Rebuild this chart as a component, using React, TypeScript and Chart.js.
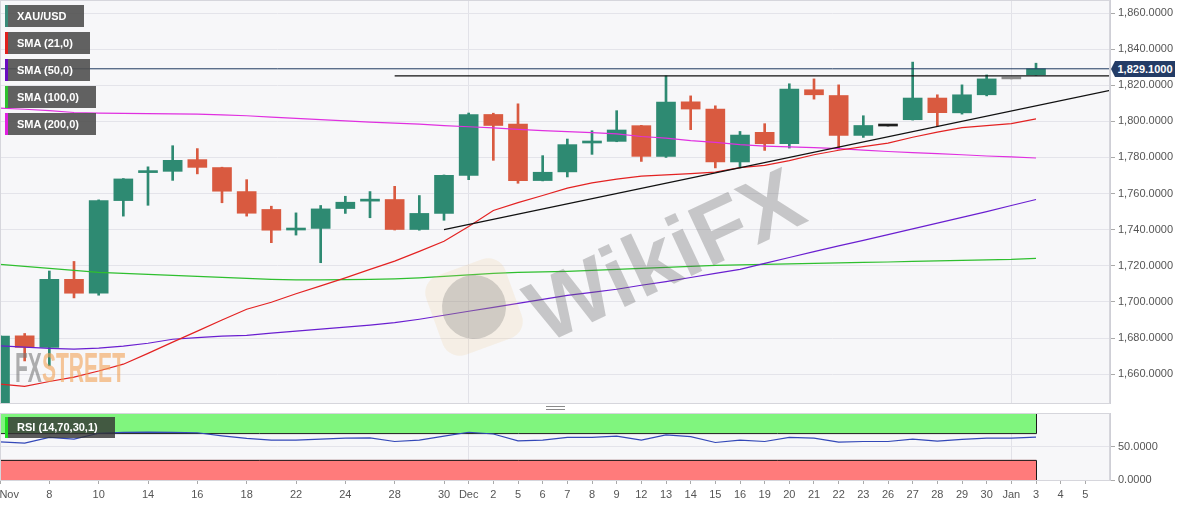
import React, { useEffect, useRef } from 'react';
import { Chart, registerables } from 'chart.js';

Chart.register(...registerables);

const FONT = '"Liberation Sans", Arial, sans-serif';

// x categories (one slot per trading day; '' = unlabeled slot, last one is the right padding slot)
const xLabels = [
  'Nov', '', '8', '', '10', '', '14', '', '16', '', '18', '', '22', '', '24', '', '28', '', '30',
  'Dec', '2', '5', '6', '7', '8', '9', '12', '13', '14', '15', '16', '19', '20', '21', '22', '23',
  '26', '27', '28', '29', '30', 'Jan', '3', '4', '5', '',
];

const opens = [1638, 1681.2, 1674.8, 1712.5, 1704.8, 1756.1, 1771.6, 1772.3, 1778.8, 1774.4, 1761.1, 1751.2, 1739.8, 1740.7, 1751.7, 1755.8, 1756.7, 1740.1, 1749.0, 1770.1, 1803.8, 1798.5, 1767.2, 1772.0, 1788.0, 1788.9, 1797.6, 1780.6, 1810.8, 1806.8, 1777.5, 1793.9, 1787.6, 1817.5, 1814.3, 1792.2, 1797.4, 1800.9, 1812.9, 1804.7, 1814.7, 1823.5, 1825.7];
const highs = [1681.5, 1682.5, 1717.1, 1722.4, 1756.5, 1768.3, 1774.8, 1786.5, 1784.9, 1774.6, 1767.7, 1753.0, 1749.3, 1753.4, 1758.5, 1761.1, 1764.0, 1758.9, 1770.3, 1804.6, 1804.5, 1809.7, 1781.0, 1790.2, 1794.8, 1805.9, 1797.8, 1825.2, 1814.1, 1808.6, 1794.4, 1798.7, 1820.8, 1823.5, 1820.2, 1803.1, 1797.4, 1832.8, 1814.7, 1820.2, 1825.7, 1823.5, 1832.2];
const lows = [1630, 1667.3, 1664.6, 1702.2, 1703.7, 1747.5, 1753.5, 1767.3, 1770.9, 1754.9, 1747.5, 1732.8, 1737.0, 1721.7, 1749.0, 1746.6, 1739.8, 1739.7, 1745.2, 1767.7, 1778.4, 1765.7, 1767.0, 1769.2, 1781.7, 1788.7, 1777.8, 1780.0, 1795.4, 1774.2, 1774.2, 1783.9, 1785.2, 1812.3, 1784.7, 1791.1, 1797.4, 1800.7, 1797.2, 1804.0, 1814.1, 1823.5, 1825.5];
const closes = [1681, 1674.8, 1712.5, 1704.8, 1756.1, 1768.1, 1772.4, 1778.4, 1774.5, 1761.3, 1749.1, 1739.7, 1740.4, 1751.5, 1755.2, 1756.4, 1740.1, 1749.0, 1770.1, 1803.8, 1797.7, 1767.2, 1771.8, 1787.1, 1788.6, 1795.2, 1780.6, 1810.7, 1806.8, 1777.5, 1792.4, 1787.6, 1817.8, 1814.7, 1792.2, 1797.7, 1797.4, 1812.9, 1804.8, 1814.7, 1823.5, 1823.5, 1829.1];

const sma21 = [1654.5, 1653.2, 1655.9, 1658.3, 1661.7, 1665.5, 1671.5, 1677.7, 1683.8, 1690.0, 1695.9, 1699.8, 1704.5, 1708.9, 1713.3, 1718.0, 1722.6, 1728.0, 1733.6, 1741.8, 1750.6, 1755.0, 1758.9, 1763.0, 1765.9, 1768.0, 1769.7, 1770.4, 1771.0, 1771.9, 1774.4, 1775.6, 1778.2, 1781.5, 1784.0, 1786.0, 1787.9, 1791.2, 1794.0, 1796.5, 1797.6, 1798.7, 1801.4];
const sma50 = [1675.6, 1674.9, 1674.2, 1673.8, 1674.4, 1675.5, 1677.1, 1679.3, 1680.2, 1681.0, 1681.5, 1682.7, 1683.8, 1684.9, 1686.0, 1687.1, 1688.5, 1690.4, 1692.6, 1694.8, 1697.0, 1699.2, 1701.4, 1703.6, 1705.3, 1707.0, 1709.2, 1711.2, 1713.5, 1715.8, 1718.0, 1721.3, 1724.6, 1727.8, 1731.0, 1734.1, 1737.3, 1740.4, 1743.6, 1746.8, 1750.0, 1753.4, 1756.7];
const sma100 = [1720.8, 1719.7, 1718.6, 1717.5, 1716.4, 1715.8, 1715.2, 1714.7, 1714.1, 1713.6, 1713.0, 1712.5, 1712.2, 1712.2, 1712.3, 1712.5, 1712.8, 1713.3, 1714.1, 1715.0, 1715.8, 1716.4, 1716.6, 1716.9, 1717.5, 1718.0, 1718.6, 1719.1, 1719.7, 1720.2, 1720.5, 1720.8, 1721.0, 1721.3, 1721.6, 1721.9, 1722.1, 1722.4, 1722.7, 1723.0, 1723.3, 1723.5, 1724.1];
const sma200 = [1807.3, 1806.7, 1805.9, 1804.9, 1804.6, 1804.4, 1804.3, 1804.1, 1804.0, 1803.6, 1803.1, 1802.3, 1801.6, 1800.9, 1800.3, 1799.6, 1799.0, 1798.4, 1797.6, 1797.0, 1796.4, 1795.6, 1794.8, 1794.3, 1793.8, 1793.1, 1791.6, 1790.7, 1789.3, 1788.3, 1787.1, 1786.3, 1785.8, 1785.4, 1784.9, 1784.0, 1783.3, 1782.7, 1782.1, 1781.5, 1780.8, 1780.3, 1779.7];

const rsi = [57, 55, 63.7, 61, 69.8, 71, 71.5, 71, 70.5, 66, 62, 59.5, 59.5, 61, 62.6, 63, 57.5, 59.5, 65.6, 71.3, 68.7, 58.5, 59.5, 63.7, 63.7, 65.6, 59.5, 67.2, 64.6, 56, 59.5, 57.5, 63.7, 62.6, 56.5, 57.5, 57.5, 61, 58, 60.6, 62.6, 62.6, 64];

const priceTicks = [1660, 1680, 1700, 1720, 1740, 1760, 1780, 1800, 1820, 1840, 1860];
const rsiTicks = [0, 50];
const rsiBands = [30, 70, 100];

const lastPrice = 1829.1;
const resistance = { fromSlot: 16, toSlot: 45, value: 1825.2 };
const trend = { fromSlot: 18, fromValue: 1740.0, toSlot: 45, toValue: 1817.2 };

const flatCandleColors: Record<number, string> = { 36: '#1e1e1e', 41: '#8c8c8c' };

const UP = '#2e8a72';
const DOWN = '#d95a40';

const fmt = (v: number) =>
  Number(v).toLocaleString('en-US', { minimumFractionDigits: 4, maximumFractionDigits: 4 });

const candleColor = (i: number) =>
  closes[i] > opens[i] ? UP : closes[i] < opens[i] ? DOWN : flatCandleColors[i] || '#222';

const sparse = (pairs: [number, number][]) => {
  const arr: (number | null)[] = xLabels.map(() => null);
  pairs.forEach(([i, v]) => (arr[i] = v));
  return arr;
};

const isSep = (i: number) => xLabels[i] === 'Dec' || xLabels[i] === 'Jan';

const panelBg = {
  id: 'panelBg',
  beforeDraw(chart: any) {
    const { ctx, chartArea: a } = chart;
    ctx.save();
    ctx.fillStyle = '#f7f7f9';
    ctx.fillRect(a.left, a.top, a.right - a.left, a.bottom - a.top);
    ctx.restore();
  },
  afterDraw(chart: any) {
    const { ctx, chartArea: a } = chart;
    ctx.save();
    ctx.strokeStyle = '#d6d6dc';
    ctx.lineWidth = 1;
    ctx.strokeRect(a.left + 0.5, a.top + 0.5, a.right - a.left - 1, a.bottom - a.top);
    ctx.restore();
  },
};

const rsiBandPlugin = {
  id: 'rsiBands',
  beforeDatasetsDraw(chart: any) {
    const { ctx, scales } = chart;
    const xs = scales.x;
    const ys = scales.y;
    const x0 = Math.max(chart.chartArea.left, xs.getPixelForValue(0));
    const x1 = xs.getPixelForValue(rsi.length - 1);
    const y30 = ys.getPixelForValue(rsiBands[0]);
    const y70 = ys.getPixelForValue(rsiBands[1]);
    const y100 = ys.getPixelForValue(rsiBands[2]);
    const y0 = ys.getPixelForValue(0);
    ctx.save();
    ctx.fillStyle = '#80f57e';
    ctx.fillRect(x0, y100, x1 - x0, y70 - y100);
    ctx.fillStyle = '#ff7b7b';
    ctx.fillRect(x0, y30, x1 - x0, y0 - y30);
    ctx.strokeStyle = '#1a1a1a';
    ctx.lineWidth = 1;
    ctx.beginPath();
    ctx.moveTo(x0 + 0.5, y100);
    ctx.lineTo(x0 + 0.5, y70 + 0.5);
    ctx.lineTo(x1 + 0.5, y70 + 0.5);
    ctx.lineTo(x1 + 0.5, y100);
    ctx.moveTo(x0 + 0.5, y0);
    ctx.lineTo(x0 + 0.5, y30 + 0.5);
    ctx.lineTo(x1 + 0.5, y30 + 0.5);
    ctx.lineTo(x1 + 0.5, y0);
    ctx.stroke();
    ctx.restore();
  },
};

const lineDs = (data: (number | null)[], color: string, width = 1.2) => ({
  type: 'line' as const,
  data,
  borderColor: color,
  borderWidth: width,
  pointRadius: 0,
  fill: false,
  spanGaps: true,
  tension: 0,
  clip: 0,
});

export default function App() {
  const mainRef = useRef<HTMLCanvasElement>(null);
  const rsiRef = useRef<HTMLCanvasElement>(null);

  useEffect(() => {
    Chart.defaults.font.family = FONT;
    const colors = opens.map((_, i) => candleColor(i));

    const main = new Chart(mainRef.current as HTMLCanvasElement, {
      type: 'bar',
      data: {
        labels: xLabels,
        datasets: [
          lineDs(sparse([[0, lastPrice], [xLabels.length - 1, lastPrice]]), '#1f3a5f', 1),
          lineDs(sparse([[resistance.fromSlot, resistance.value], [resistance.toSlot, resistance.value]]), '#111', 1.3),
          lineDs(sparse([[trend.fromSlot, trend.fromValue], [trend.toSlot, trend.toValue]]), '#111', 1.3),
          lineDs(sma21, '#e32222'),
          lineDs(sma50, '#6a1fd0'),
          lineDs(sma100, '#2fbf2f'),
          lineDs(sma200, '#e030e0'),
          {
            type: 'bar',
            data: opens.map((o, i) => [o, closes[i]]),
            backgroundColor: colors,
            borderWidth: 0,
            barThickness: 19,
            minBarLength: 2,
            grouped: false,
            clip: 0,
          } as any,
          {
            type: 'bar',
            data: lows.map((l, i) => [l, highs[i]]),
            backgroundColor: colors,
            borderWidth: 0,
            barThickness: 2,
            grouped: false,
            clip: 0,
          } as any,
        ],
      },
      options: {
        animation: false,
        responsive: false,
        maintainAspectRatio: false,
        layout: { padding: { top: 0, left: 0, right: 0, bottom: 1 } },
        plugins: { legend: { display: false }, tooltip: { enabled: false } },
        scales: {
          x: {
            type: 'category',
            offset: false,
            ticks: { display: false, autoSkip: false },
            grid: {
              offset: false,
              color: (c: any) => (isSep(c.index) ? '#e2e2e8' : 'transparent'),
              drawTicks: false,
            },
            border: { display: false },
            afterFit: (s: any) => {
              s.height = 0;
              s.paddingLeft = 0;
              s.paddingRight = 0;
            },
          },
          y: {
            position: 'right',
            min: 1644,
            max: 1867.2,
            afterBuildTicks: (s: any) => {
              s.ticks = priceTicks.map((v) => ({ value: v }));
            },
            ticks: {
              color: '#555',
              font: { size: 11, family: FONT },
              padding: 3,
              callback: (v: any) => fmt(v),
            },
            grid: { color: '#e4e4ea', tickLength: 5, tickColor: '#aaa' },
            border: { display: true, color: '#cfcfd6' },
            afterFit: (s: any) => {
              s.width = 84;
              s.paddingTop = 0;
              s.paddingBottom = 0;
            },
          },
        },
      } as any,
      plugins: [panelBg],
    });

    const rsiChart = new Chart(rsiRef.current as HTMLCanvasElement, {
      type: 'line',
      data: {
        labels: xLabels,
        datasets: [lineDs(rsi, '#3348b8', 1.2)],
      },
      options: {
        animation: false,
        responsive: false,
        maintainAspectRatio: false,
        layout: { padding: { top: 9, left: 0, right: 0, bottom: 0 } },
        plugins: { legend: { display: false }, tooltip: { enabled: false } },
        scales: {
          x: {
            type: 'category',
            offset: false,
            ticks: {
              autoSkip: false,
              maxRotation: 0,
              minRotation: 0,
              color: '#555',
              font: { size: 11, family: FONT },
              padding: 4,
              callback: (_v: any, i: number) => (i === 0 ? '      ' + xLabels[i] : xLabels[i]),
            },
            grid: {
              offset: false,
              color: (c: any) => (isSep(c.index) ? '#e2e2e8' : 'transparent'),
              tickColor: (c: any) => (xLabels[c.index] ? '#aaa' : 'transparent'),
              tickLength: 4,
            },
            border: { display: false },
            afterFit: (s: any) => {
              s.height = 26;
              s.paddingLeft = 0;
              s.paddingRight = 0;
            },
          },
          y: {
            position: 'right',
            min: 0,
            max: 100,
            afterBuildTicks: (s: any) => {
              s.ticks = rsiTicks.map((v) => ({ value: v }));
            },
            ticks: {
              color: '#555',
              font: { size: 11, family: FONT },
              padding: 3,
              callback: (v: any) => fmt(v),
            },
            grid: {
              color: (c: any) => (c.tick && c.tick.value === 50 ? '#e4e4ea' : 'transparent'),
              tickLength: 5,
              tickColor: '#aaa',
            },
            border: { display: true, color: '#cfcfd6' },
            afterFit: (s: any) => {
              s.width = 84;
              s.paddingTop = 0;
              s.paddingBottom = 0;
            },
          },
        },
      } as any,
      plugins: [panelBg, rsiBandPlugin],
    });

    return () => {
      main.destroy();
      rsiChart.destroy();
    };
  }, []);

  const legend = [
    { text: 'XAU/USD', color: '#3a8a78', top: 5, width: 79 },
    { text: 'SMA (21,0)', color: '#e0201c', top: 32, width: 85 },
    { text: 'SMA (50,0)', color: '#6a0ac0', top: 59, width: 85 },
    { text: 'SMA (100,0)', color: '#2ec02e', top: 86, width: 91 },
    { text: 'SMA (200,0)', color: '#e020e0', top: 113, width: 91 },
  ];

  return (
    <div
      style={{
        position: 'absolute',
        left: 0,
        top: 0,
        width: 1194,
        height: 506,
        background: '#fff',
        overflow: 'hidden',
        fontFamily: FONT,
      }}
    >
      <canvas ref={mainRef} width={1194} height={404} style={{ position: 'absolute', left: 0, top: 0, width: 1194, height: 404 }} />
      <canvas ref={rsiRef} width={1194} height={102} style={{ position: 'absolute', left: 0, top: 404, width: 1194, height: 102 }} />

      {/* watermarks */}
      <div
        style={{
          position: 'absolute',
          left: 15,
          top: 343,
          fontSize: 43,
          fontWeight: 700,
          lineHeight: '48px',
          transform: 'scaleX(0.49)',
          transformOrigin: 'left top',
          whiteSpace: 'nowrap',
          opacity: 0.6,
          pointerEvents: 'none',
        }}
      >
        <span style={{ color: '#7a7a7a' }}>FX</span>
        <span style={{ color: '#f2a255' }}>STREET</span>
      </div>
      <div
        style={{
          position: 'absolute',
          left: 432,
          top: 265,
          width: 84,
          height: 84,
          borderRadius: 18,
          background: 'rgba(240,200,140,0.18)',
          transform: 'rotate(-20deg)',
          pointerEvents: 'none',
        }}
      >
        <div
          style={{
            position: 'absolute',
            left: 10,
            top: 10,
            width: 64,
            height: 64,
            borderRadius: '50%',
            background: 'rgba(110,110,110,0.28)',
          }}
        />
      </div>
      <div
        style={{
          position: 'absolute',
          left: 532,
          top: 272,
          fontSize: 88,
          fontWeight: 700,
          lineHeight: '90px',
          color: 'rgba(100,100,100,0.33)',
          transform: 'rotate(-25deg)',
          transformOrigin: 'left center',
          whiteSpace: 'nowrap',
          pointerEvents: 'none',
        }}
      >
        WikiFX
      </div>

      {legend.map((l) => (
        <div
          key={l.text}
          style={{
            position: 'absolute',
            left: 5,
            top: l.top,
            width: l.width,
            height: 22,
            background: 'rgba(80,80,80,0.9)',
            borderLeft: `3px solid ${l.color}`,
            boxSizing: 'border-box',
            color: '#fff',
            fontWeight: 700,
            fontSize: 11,
            lineHeight: '22px',
            paddingLeft: 9,
            whiteSpace: 'nowrap',
          }}
        >
          {l.text}
        </div>
      ))}

      <div
        style={{
          position: 'absolute',
          left: 5,
          top: 417,
          width: 110,
          height: 21,
          background: 'rgba(50,50,50,0.8)',
          borderLeft: '3px solid #22dd22',
          boxSizing: 'border-box',
          color: '#fff',
          fontWeight: 700,
          fontSize: 11,
          lineHeight: '21px',
          paddingLeft: 9,
          whiteSpace: 'nowrap',
        }}
      >
        RSI (14,70,30,1)
      </div>

      {/* last price tag */}
      <div
        style={{
          position: 'absolute',
          left: 1111,
          top: 61,
          width: 0,
          height: 0,
          borderTop: '8px solid transparent',
          borderBottom: '8px solid transparent',
          borderRight: '4px solid #233c66',
        }}
      />
      <div
        style={{
          position: 'absolute',
          left: 1115,
          top: 61,
          width: 60,
          height: 16,
          background: '#233c66',
          color: '#fff',
          fontWeight: 700,
          fontSize: 11,
          lineHeight: '16px',
          textAlign: 'center',
          whiteSpace: 'nowrap',
        }}
      >
        {fmt(lastPrice)}
      </div>

      {/* panel resize handle */}
      <div
        style={{
          position: 'absolute',
          left: 546,
          top: 406,
          width: 19,
          height: 2,
          borderTop: '1px solid #8a8a8a',
          borderBottom: '1px solid #8a8a8a',
        }}
      />
    </div>
  );
}
